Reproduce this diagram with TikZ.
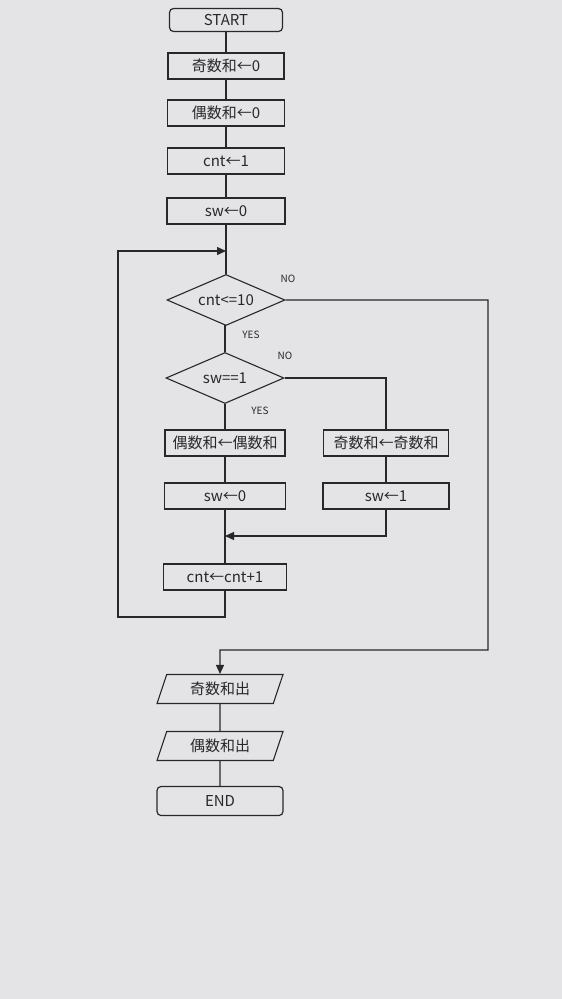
\documentclass[tikz,border=0pt]{standalone}
\usepackage{fontspec}
\setmainfont{Noto Sans CJK JP}
\usetikzlibrary{shapes.geometric,arrows.meta}
\definecolor{paper}{RGB}{228,228,230}
\definecolor{inkc}{RGB}{40,40,44}
\begin{document}
\begin{tikzpicture}[x=1pt,y=-1pt,
  ink/.style={draw=inkc, text=inkc},
  txt/.style={font=\fontsize{15}{17}\selectfont},
  term/.style={ink, txt, rounded corners=4pt, line width=1.2pt, minimum height=23pt, inner sep=0pt},
  proc/.style={ink, txt, line width=1.6pt, minimum height=26pt, inner sep=0pt},
  dec/.style={ink, txt, diamond, aspect=2.3, line width=1.1pt, inner sep=0pt, minimum width=118pt, minimum height=51pt},
  io/.style={ink, txt, trapezium, trapezium left angle=55, trapezium right angle=125, trapezium stretches body, line width=1.1pt, minimum width=126pt, minimum height=29pt, inner sep=0pt},
  conn/.style={draw=inkc, line width=1.3pt},
  arr/.style={conn, -{Triangle[length=9pt,width=8pt]}},
  lab/.style={text=inkc, font=\fontsize{10}{11}\selectfont, inner sep=0pt}
]
\fill[paper] (0,0) rectangle (562,999);
\useasboundingbox (0,0) rectangle (562,999);

\node[term, minimum width=113pt] (start) at (226,20) {START};
\node[proc, minimum width=116pt] (s1) at (226,66) {奇数和←0};
\node[proc, minimum width=117pt] (s2) at (226,113) {偶数和←0};
\node[proc, minimum width=117pt] (s3) at (226,161) {cnt←1};
\node[proc, minimum width=118pt] (s4) at (226,211) {sw←0};
\node[dec] (d1) at (226,300) {cnt<=10};
\node[dec] (d2) at (225,378) {sw==1};
\node[proc, minimum width=120pt] (b1) at (225,443) {偶数和←偶数和};
\node[proc, minimum width=125pt] (b2) at (386,443) {奇数和←奇数和};
\node[proc, minimum width=121pt] (c1) at (225,496) {sw←0};
\node[proc, minimum width=126pt] (c2) at (386,496) {sw←1};
\node[proc, minimum width=123pt] (inc) at (225,577) {cnt←cnt+1};
\node[io] (o1) at (220,689) {奇数和出};
\node[io] (o2) at (220,746) {偶数和出};
\node[term, minimum width=126pt, minimum height=29pt] (end) at (220,801) {END};

\node[lab] (no1) at (288,279) {NO};
\node[lab] (yes1) at (251,335) {YES};
\node[lab] (no2) at (285,356) {NO};
\node[lab] (yes2) at (260,411) {YES};

\coordinate (j1) at (226,251);
\coordinate (loopL) at (118,617);
\coordinate (r1) at (488,650);
\coordinate (m2) at (220,650);
\coordinate (mg) at (225,536);

\draw[conn] (start) -- (s1);
\draw[conn] (s1) -- (s2);
\draw[conn] (s2) -- (s3);
\draw[conn] (s3) -- (s4);
\draw[conn] (s4) -- (d1);
\draw[conn] (d1.south) -- (d1.south -| d2.north) -- (d2.north);
\draw[conn] (d2) -- (b1);
\draw[conn] (d2.east) -| (b2.north);
\draw[conn] (b1) -- (c1);
\draw[conn] (b2) -- (c2);
\draw[conn] (c1) -- (inc);
\draw[arr] (c2.south) |- (mg);
\draw[arr] (inc.south) |- (loopL) |- (j1);
\draw[arr] (d1.east) -| (r1) -- (m2) -- (o1.north);
\draw[conn] (o1) -- (o2);
\draw[conn] (o2) -- (end);
\end{tikzpicture}
\end{document}
